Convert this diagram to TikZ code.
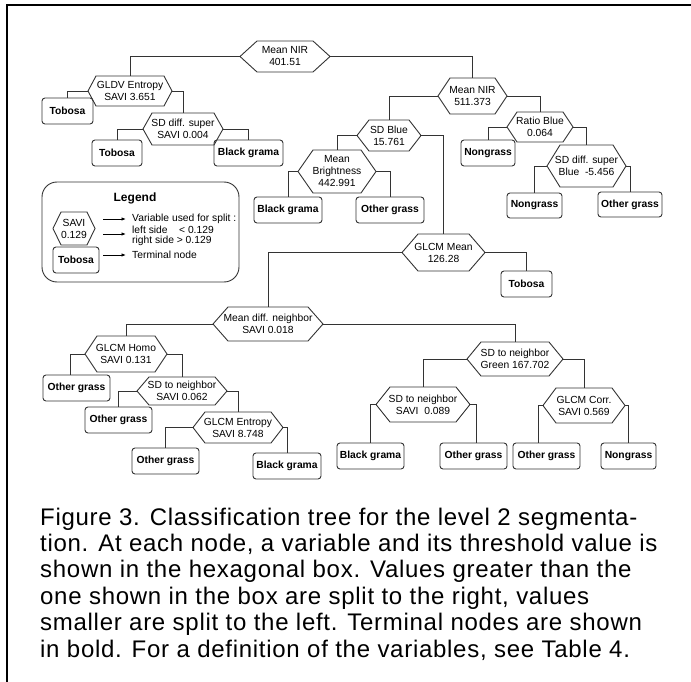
\documentclass[tikz,border=0pt]{standalone}
\usepackage{fontspec}
\setmainfont{Liberation Sans}
\usetikzlibrary{arrows.meta}
\definecolor{lc}{HTML}{333333}
\newcommand\treefont{\fontsize{10.3}{12}\selectfont}
\newcommand\capfont{\addfontfeatures{LetterSpace=3}\fontsize{24}{26}\selectfont}
\newcommand\hexnode[7]{%
  \node[hexbox, minimum width=#4pt, minimum height=#5pt] (#1) at (#2,#3) {#7};
  \draw[hexline] ([xshift=#6pt]#1.north west) -- ([xshift=-#6pt]#1.north east) -- (#1.east)
    -- ([xshift=-#6pt]#1.south east) -- ([xshift=#6pt]#1.south west) -- (#1.west) -- cycle;}
\newcommand\termnode[6]{%
  \node[term, minimum width=#4pt, minimum height=#5pt] (#1) at (#2,#3) {#6};}
\tikzset{
  hexbox/.style={inner sep=0pt, outer sep=0pt, align=center, font=\treefont},
  hexline/.style={draw=lc, line width=0.9pt, line join=miter},
  term/.style={draw=lc, line width=0.9pt, rounded corners=3pt, inner sep=0pt, outer sep=0pt,
    font=\treefont\bfseries},
  conn/.style={draw=lc, line width=0.9pt},
  legarrow/.style={draw=black, line width=0.9pt, -{Latex[length=4.5pt,width=3.5pt]}},
  legtext/.style={anchor=west, inner sep=0pt, font=\treefont},
  capline/.style={anchor=base west, inner sep=0pt, font=\capfont}
}
\begin{document}
\begin{tikzpicture}[x=1pt, y=-1pt]
\useasboundingbox (0,0) rectangle (691,682);
% frame
\draw[black, line width=1.6pt] (691,5) -- (7,5) -- (7,682);

% hexagon (split) nodes: name, cx, cy, w, h, inset, text
\hexnode{root}{285}{56.5}{90}{31}{17}{Mean NIR\\401.51}
\hexnode{gldv}{130}{91}{84}{30}{8}{GLDV Entropy\\SAVI 3.651}
\hexnode{sddiff}{183}{129}{80}{32}{9}{SD diff. super\\SAVI 0.004}
\hexnode{nirb}{472.5}{96}{69}{36}{12}{Mean NIR\\511.373}
\hexnode{ratio}{540}{127}{66}{30}{10}{Ratio Blue\\0.064}
\hexnode{sdblueb}{586.5}{166}{79}{42}{13}{SD diff. super\\Blue\ \ -5.456}
\hexnode{sdblue}{389}{135.5}{64}{31}{12}{SD Blue\\15.761}
\hexnode{bright}{337}{171.5}{78}{43}{15}{Mean\\Brightness\\442.991}
\hexnode{glcmmean}{443.5}{252.5}{83}{37}{16}{GLCM Mean\\126.28}
\hexnode{meandiff}{268}{324}{110}{34}{15}{Mean diff. neighbor\\SAVI 0.018}
\hexnode{homo}{126}{354}{82}{36}{12}{GLCM Homo\\SAVI 0.131}
\hexnode{sdnA}{182}{391}{90}{28}{12}{SD to neighbor\\SAVI 0.062}
\hexnode{entropy}{238}{427.5}{90}{31}{12}{GLCM Entropy\\SAVI 8.748}
\hexnode{sdgreen}{515}{359}{96}{34}{14}{SD to neighbor\\Green 167.702}
\hexnode{sdnB}{423}{404.5}{94}{35}{14}{SD to neighbor\\SAVI\ \ 0.089}
\hexnode{corr}{584}{405.5}{82}{35}{13}{GLCM Corr.\\SAVI 0.569}

% terminal nodes: name, cx, cy, w, h, text
\termnode{tobA}{67.5}{111}{51}{26}{Tobosa}
\termnode{tobB}{117}{153}{50}{26}{Tobosa}
\termnode{bgA}{248.5}{153}{69}{26}{Black grama}
\termnode{ngA}{488}{153}{54}{26}{Nongrass}
\termnode{ngB}{534.5}{205.5}{55}{25}{Nongrass}
\termnode{ogA}{630}{204.5}{64}{25}{Other grass}
\termnode{bgB}{288}{210}{68}{26}{Black grama}
\termnode{ogB}{390}{210}{68}{26}{Other grass}
\termnode{tobC}{526.5}{284}{51}{26}{Tobosa}
\termnode{ogC}{76.5}{388}{67}{26}{Other grass}
\termnode{ogD}{118.5}{420}{67}{26}{Other grass}
\termnode{ogE}{165.5}{461}{67}{26}{Other grass}
\termnode{bgC}{287}{466}{68}{26}{Black grama}
\termnode{bgD}{370.5}{456}{67}{26}{Black grama}
\termnode{ogF}{473.5}{456}{67}{26}{Other grass}
\termnode{ogG}{546.5}{456}{67}{26}{Other grass}
\termnode{ngC}{628.5}{456}{55}{26}{Nongrass}

% connectors
\draw[conn] (root.west) -| (gldv.north);
\draw[conn] (root.east) -| (nirb.north);
\draw[conn] (gldv.west) -| (tobA.north);
\draw[conn] (gldv.east) -| (sddiff.north);
\draw[conn] (sddiff.west) -| (tobB.north);
\draw[conn] (sddiff.east) -| (bgA.north);
\draw[conn] (nirb.west) -| (sdblue.north);
\draw[conn] (nirb.east) -| (ratio.north);
\draw[conn] (ratio.west) -| (ngA.north);
\draw[conn] (ratio.east) -| (sdblueb.north);
\draw[conn] (sdblueb.west) -| (ngB.north);
\draw[conn] (sdblueb.east) -| (ogA.north);
\draw[conn] (sdblue.west) -| (bright.north);
\draw[conn] (sdblue.east) -| (glcmmean.north);
\draw[conn] (bright.west) -| (bgB.north);
\draw[conn] (bright.east) -| (ogB.north);
\draw[conn] (glcmmean.west) -| (meandiff.north);
\draw[conn] (glcmmean.east) -| (tobC.north);
\draw[conn] (meandiff.west) -| (homo.north);
\draw[conn] (meandiff.east) -| (sdgreen.north);
\draw[conn] (homo.west) -| ([xshift=-6pt]ogC.north);
\draw[conn] (homo.east) -| (sdnA.north);
\draw[conn] (sdnA.west) -| (ogD.north);
\draw[conn] (sdnA.east) -| (entropy.north);
\draw[conn] (entropy.west) -| (ogE.north);
\draw[conn] (entropy.east) -| (bgC.north);
\draw[conn] (sdgreen.west) -| (sdnB.north);
\draw[conn] (sdgreen.east) -| (corr.north);
\draw[conn] (sdnB.west) -| (bgD.north);
\draw[conn] (sdnB.east) -| ([xshift=3pt]ogF.north);
\draw[conn] (corr.west) -| ([xshift=-8pt]ogG.north);
\draw[conn] (corr.east) -| (ngC.north);

% legend
\draw[draw=lc, line width=0.9pt, rounded corners=15pt] (42,182) rectangle (239,282);
\node[font=\fontsize{12}{14}\selectfont\bfseries, inner sep=0pt] (legtitle) at (135,198) {Legend};
\hexnode{leghex}{74}{228.5}{42}{33}{8}{SAVI\\0.129}
\termnode{legtob}{76}{260}{46}{26}{Tobosa}
\node[legtext] (lt1) at (132,219) {Variable used for split :};
\node[legtext] (lt2) at (132,230) {left side\ \ \ \ < 0.129};
\node[legtext] (lt3) at (132,241) {right side > 0.129};
\node[legtext] (lt4) at (132,255) {Terminal node};
\coordinate (la1) at (103,219);
\coordinate (la2) at (103,234);
\coordinate (la3) at (103,255);
\draw[legarrow] (la1) -- (lt1.west -| 126,0);
\draw[legarrow] (la2) -- (126,234);
\draw[legarrow] (la3) -- (lt4.west -| 126,0);

% caption
\node[capline] (cap1) at (40,525) {Figure 3. Classification tree for the level 2 segmenta-};
\node[capline] (cap2) at (40,551.4) {tion. At each node, a variable and its threshold value is};
\node[capline] (cap3) at (40,577.8) {shown in the hexagonal box. Values greater than the};
\node[capline] (cap4) at (40,604.2) {one shown in the box are split to the right, values};
\node[capline] (cap5) at (40,630.6) {smaller are split to the left. Terminal nodes are shown};
\node[capline] (cap6) at (40,657) {in bold. For a definition of the variables, see Table 4.};
\end{tikzpicture}
\end{document}
